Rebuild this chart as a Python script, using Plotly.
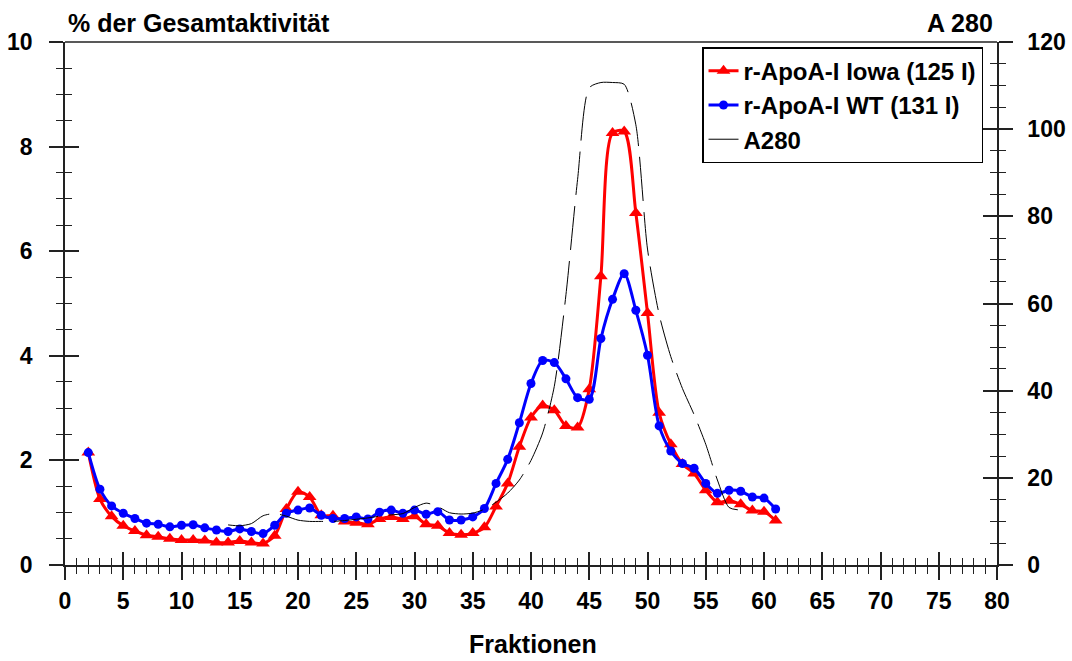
import plotly.graph_objects as go

fractions = list(range(2, 62))
iowa = [2.15, 1.26, 0.93, 0.75, 0.65, 0.57, 0.54, 0.50, 0.48, 0.48,
        0.47, 0.43, 0.43, 0.46, 0.43, 0.41, 0.56, 1.07, 1.40, 1.30,
        0.95, 0.94, 0.83, 0.81, 0.78, 0.88, 0.92, 0.88, 0.93, 0.78,
        0.75, 0.61, 0.58, 0.61, 0.72, 1.12, 1.56, 2.26, 2.82, 3.05,
        2.96, 2.66, 2.63, 3.36, 5.52, 8.26, 8.29, 6.73, 4.82, 2.91,
        2.31, 1.93, 1.75, 1.43, 1.20, 1.23, 1.16, 1.04, 1.02, 0.85]
wt = [2.15, 1.45, 1.13, 0.99, 0.89, 0.80, 0.78, 0.73, 0.76, 0.77,
      0.71, 0.67, 0.64, 0.69, 0.64, 0.60, 0.76, 0.99, 1.05, 1.09,
      0.95, 0.89, 0.89, 0.92, 0.88, 1.01, 1.05, 0.99, 1.05, 0.97,
      1.02, 0.86, 0.86, 0.92, 1.08, 1.56, 2.02, 2.72, 3.47, 3.91,
      3.87, 3.56, 3.20, 3.17, 4.33, 5.08, 5.57, 4.87, 4.01, 2.66,
      2.18, 1.94, 1.85, 1.56, 1.37, 1.43, 1.41, 1.30, 1.28, 1.07]

a280_fractions = list(range(14, 59))
a280 = [9.2, 9.0, 9.5, 11.3, 11.8, 11.2, 10.3, 10.0, 10.0, 10.0,
        10.2, 10.5, 10.8, 11.2, 11.5, 11.8, 13.2, 14.2, 13.4, 12.0,
        11.7, 11.9, 12.8, 14.4, 16.5, 19.5, 24.0, 30.3, 41.0, 62.0,
        88.5, 109.5, 110.7, 110.7, 110.3, 101.0, 72.5, 57.5, 47.8, 40.5,
        34.5, 27.7, 19.5, 13.2, 12.6]

x_ticks = list(range(0, 81, 5))
y_left_ticks = [0, 2, 4, 6, 8, 10]
y_right_ticks = [0, 20, 40, 60, 80, 100, 120]

FONT = "Liberation Sans"
AX = "#222222"
TICK_SIZE = 23
TEXT_SIZE = 25

fig = go.Figure()
fig.add_trace(go.Scatter(
    x=fractions, y=iowa, name="r-ApoA-I Iowa (125 I)", mode="lines+markers",
    line=dict(color="#FF0000", width=3, shape="spline", smoothing=0.8),
    marker=dict(symbol="triangle-up", size=12, color="#FF0000"),
    xaxis="x", yaxis="y"))
fig.add_trace(go.Scatter(
    x=fractions, y=wt, name="r-ApoA-I WT (131 I)", mode="lines+markers",
    line=dict(color="#0000FF", width=3, shape="spline", smoothing=0.8),
    marker=dict(symbol="circle", size=9, color="#0000FF"),
    xaxis="x", yaxis="y"))
fig.add_trace(go.Scatter(
    x=a280_fractions, y=a280, name="A280", mode="lines",
    line=dict(color="black", width=1, shape="spline", smoothing=0.7, dash="44px,11px"),
    xaxis="x", yaxis="y2"))
# dummy traces to register overlay axes (for crossing ticks)
fig.add_trace(go.Scatter(x=[None], y=[None], xaxis="x3", yaxis="y3", showlegend=False, hoverinfo="skip"))
fig.add_trace(go.Scatter(x=[None], y=[None], xaxis="x3", yaxis="y4", showlegend=False, hoverinfo="skip"))

tickfont = dict(family=FONT, size=TICK_SIZE, color="black", weight="bold")
textfont = dict(family=FONT, size=TEXT_SIZE, color="black", weight="bold")

fig.update_layout(
    width=1072, height=661,
    margin=dict(l=65, r=75, t=42, b=96, autoexpand=False),
    paper_bgcolor="white", plot_bgcolor="white",
    font=dict(family=FONT, size=TICK_SIZE, color="black", weight="bold"),
    showlegend=True,
    legend=dict(x=0.985, y=0.99, xanchor="right", yanchor="top",
                bgcolor="white", bordercolor="black", borderwidth=1.5,
                font=dict(family=FONT, size=24, color="black", weight="bold"),
                tracegroupgap=0, itemwidth=30),
    xaxis=dict(range=[0, 80], tickvals=x_ticks, ticks="outside", ticklen=13, tickwidth=1.5,
               tickcolor=AX, showline=True, linecolor=AX, linewidth=1.5, mirror=False,
               showgrid=False, zeroline=False, tickfont=tickfont, ticklabelstandoff=2,
               automargin=False,
               minor=dict(dtick=1, ticks="outside", ticklen=7, tickwidth=1.2, tickcolor=AX, showgrid=False)),
    yaxis=dict(range=[0, 10], tickvals=y_left_ticks, ticks="outside", ticklen=14, tickwidth=1.5,
               tickcolor=AX, showline=True, linecolor=AX, linewidth=1.5,
               showgrid=False, zeroline=False, tickfont=tickfont, ticklabelstandoff=12,
               automargin=False,
               minor=dict(dtick=0.5, ticks="outside", ticklen=7, tickwidth=1.2, tickcolor=AX, showgrid=False)),
    yaxis2=dict(range=[0, 120], tickvals=y_right_ticks, overlaying="y", side="right", anchor="x",
                ticks="outside", ticklen=14, tickwidth=1.5, tickcolor=AX, showline=True,
                linecolor=AX, linewidth=1.5, showgrid=False, zeroline=False, tickfont=tickfont,
                ticklabelstandoff=10, automargin=False,
                minor=dict(dtick=5, ticks="outside", ticklen=7, tickwidth=1.2, tickcolor=AX, showgrid=False)),
    xaxis3=dict(range=[0, 80], overlaying="x", anchor="y3", tickvals=x_ticks, ticks="inside",
                ticklen=13, tickwidth=1.5, tickcolor=AX, showticklabels=False, showline=False,
                showgrid=False, zeroline=False, automargin=False,
                minor=dict(dtick=1, ticks="inside", ticklen=7, tickwidth=1.2, tickcolor=AX, showgrid=False)),
    yaxis3=dict(range=[0, 10], overlaying="y", anchor="x3", side="left", tickvals=y_left_ticks,
                ticks="inside", ticklen=14, tickwidth=1.5, tickcolor=AX, showticklabels=False,
                showline=False, showgrid=False, zeroline=False, automargin=False,
                minor=dict(dtick=0.5, ticks="inside", ticklen=7, tickwidth=1.2, tickcolor=AX, showgrid=False)),
    yaxis4=dict(range=[0, 120], overlaying="y", anchor="x3", side="right", tickvals=y_right_ticks,
                ticks="inside", ticklen=14, tickwidth=1.5, tickcolor=AX, showticklabels=False,
                showline=False, showgrid=False, zeroline=False, automargin=False,
                minor=dict(dtick=5, ticks="inside", ticklen=7, tickwidth=1.2, tickcolor=AX, showgrid=False)),
    annotations=[
        dict(text="% der Gesamtaktivität", xref="paper", yref="paper", x=0.001, y=1.036,
             xanchor="left", yanchor="middle", showarrow=False, font=textfont),
        dict(text="A 280", xref="paper", yref="paper", x=0.998, y=1.036,
             xanchor="right", yanchor="middle", showarrow=False, font=textfont),
        dict(text="Fraktionen", xref="paper", yref="paper", x=0.502, y=-0.152,
             xanchor="center", yanchor="middle", showarrow=False, font=textfont),
    ],
    shapes=[dict(type="line", xref="paper", yref="paper", x0=0, x1=1, y0=1, y1=1,
                 line=dict(color=AX, width=1.5))],
)
fig.write_html("out.html", config={"displayModeBar": False},
               post_script="document.body.style.margin='0';document.body.style.overflow='hidden';")
